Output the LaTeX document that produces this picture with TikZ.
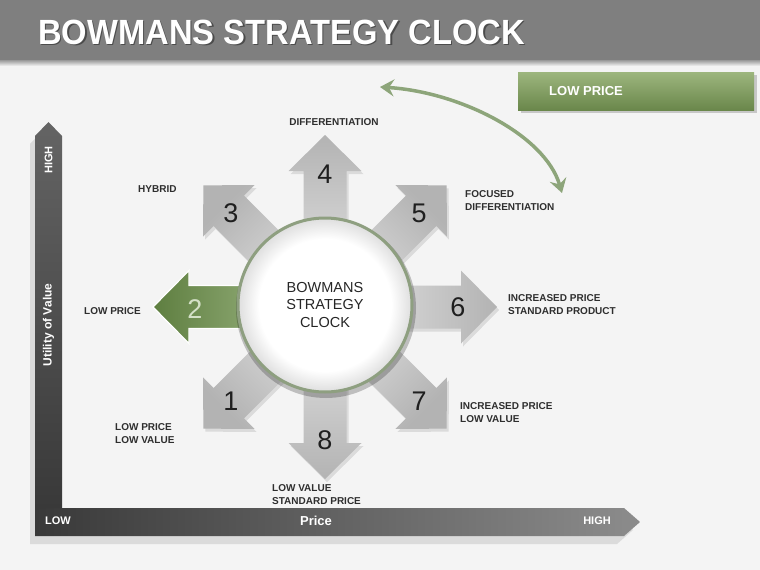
\documentclass[tikz,border=0pt]{standalone}
\usepackage{fontspec}
\setmainfont{Liberation Sans}
\usepackage{graphicx}
\usetikzlibrary{arrows.meta,calc}
\definecolor{kopf}{HTML}{7F7F7F}
\definecolor{grund}{HTML}{F4F4F4}
\definecolor{boxo}{HTML}{9DB67E}
\definecolor{boxu}{HTML}{6A874B}
\definecolor{gruend}{HTML}{5E7E40}
\definecolor{gruenh}{HTML}{A9C190}
\definecolor{bogen}{HTML}{8DA57A}
\definecolor{ring}{HTML}{8E9F80}
\definecolor{pfeilh}{HTML}{E9E9E9}
\definecolor{pfeild}{HTML}{B3B3B3}
\definecolor{achsed}{HTML}{393939}
\definecolor{achsem}{HTML}{646464}
\definecolor{achseh}{HTML}{8C8C8C}
\definecolor{schrift}{HTML}{2E2E2E}
\definecolor{schatten}{HTML}{DBDBDB}
\pgfdeclareradialshading{rand}{\pgfpoint{0bp}{0bp}}{color(0bp)=(white); color(19bp)=(white); color(25bp)=(black!13); color(50bp)=(black!13)}
\tikzset{
  titel/.style={font=\fontsize{35}{40}\selectfont\bfseries,text=white,anchor=base west,inner sep=0pt},
  etikett/.style={font=\fontsize{10}{12.7}\selectfont\bfseries,text=schrift,align=left,anchor=base west,inner sep=0pt},
  ziffer/.style={font=\fontsize{27}{30}\selectfont,text=black!88,inner sep=0pt},
  achstext/.style={font=\fontsize{11}{13}\selectfont\bfseries,text=white,inner sep=0pt},
  uhr/.style={circle,shading=rand,draw=ring,line width=3pt,minimum size=174pt,align=center,
    font=\fontsize{14.5}{17.7}\selectfont,text=black!85},
  bogenpfeil/.style={{Stealth[length=14pt,width=17pt,inset=5pt]}-{Stealth[length=14pt,width=17pt,inset=5pt]},bogen,line width=3.5pt},
}

\begin{document}
\begin{tikzpicture}[x=1pt,y=-1pt]
  \useasboundingbox (0,0) rectangle (760,570);
  \fill[grund] (0,0) rectangle (760,570);
  \fill[kopf] (0,0) rectangle (760,60);
  \shade[top color=black!40,bottom color=grund] (0,60) rectangle (760,66);
  \node[titel,text=black!70] (titelschatten) at (39.5,45.5) {\scalebox{0.935}[1]{BOWMANS STRATEGY CLOCK}};
  \node[titel] (titel) at (38,44) {\scalebox{0.935}[1]{BOWMANS STRATEGY CLOCK}};
  \fill[black!22] (521,75) rectangle (757,113);
  \shade[top color=boxo,bottom color=boxu] (518,72) rectangle (754,110);
  \node[etikett,text=white,font=\fontsize{13}{15}\selectfont\bfseries] (preisbox) at (549,95.5) {LOW PRICE};
  \coordinate (bogenA) at (380,87); \coordinate (bogenB) at (562,193);
  \draw[bogenpfeil] (bogenA) .. controls (460,92) and (545,135) .. (bogenB);
  \fill[schatten] (30,144)--(43.5,130)--(57,144)--(57,516)--(617,516)--(633,530)--(617,544)--(30,544)--cycle;
  \shade[left color=achsed,right color=achseh] (35,508)--(624,508)--(640,522)--(624,536)--(35,536)--cycle;
  \shade[top color=achsem,bottom color=achsed] (35,136)--(48.5,122)--(62,136)--(62,508)--(35,508)--cycle;
  \node[achstext,rotate=90] (hoch) at (48.5,160) {HIGH};
  \node[achstext,rotate=90,font=\fontsize{12}{14}\selectfont\bfseries] (nutzen) at (48.5,325) {Utility of Value};
  \node[achstext,anchor=west] (tief) at (45,521) {LOW};
  \node[achstext,font=\fontsize{13}{15}\selectfont\bfseries] (preis) at (316,521) {Price};
  \node[achstext,anchor=east] (teuer) at (611,521) {HIGH};
  \coordinate (mitte) at (325,307);
  \foreach \w/\z in {-90/4,-45/5,0/6,45/7,90/8,135/1,-135/3}{
    \fill[black,opacity=0.1] ($(mitte)+(2,3)+(\w-90:21.5)$)--($(mitte)+(2,3)+(\w:136)+(\w-90:21.5)$)--($(mitte)+(2,3)+(\w:136)+(\w-90:36.5)$)
      --($(mitte)+(2,3)+(\w:172)$)--($(mitte)+(2,3)+(\w:136)+(\w+90:36.5)$)--($(mitte)+(2,3)+(\w:136)+(\w+90:21.5)$)--($(mitte)+(2,3)+(\w+90:21.5)$)--cycle;
    \shade[top color=pfeild,bottom color=pfeilh,shading angle={-\w-90}] ($(mitte)+(\w-90:21.5)$)--($(mitte)+(\w:136)+(\w-90:21.5)$)--($(mitte)+(\w:136)+(\w-90:36.5)$)
      --($(mitte)+(\w:172)$)--($(mitte)+(\w:136)+(\w+90:36.5)$)--($(mitte)+(\w:136)+(\w+90:21.5)$)--($(mitte)+(\w+90:21.5)$)--cycle;
    \node[ziffer] (z\z) at ($(mitte)+(\w:133)$) {\z};
  }
  \shade[left color=gruend,right color=gruenh,draw=white,line width=1.2pt] (325,285.5)--(189,285.5)--(189,270.5)--(153,307)--(189,343.5)--(189,328.5)--(325,328.5)--cycle;
  \node[ziffer,text=gruenh!50!white] (z2) at (195,309) {2};
  \fill[black,opacity=0.22] (326,308) circle (90);
  \node[uhr] (uhr) at (325,305) {BOWMANS\\STRATEGY\\CLOCK};
  \node[etikett,anchor=base] (l4) at (334,125) {DIFFERENTIATION};
  \node[etikett] (l3) at (138,192) {HYBRID};
  \node[etikett] (l5) at (465,210) {FOCUSED\\DIFFERENTIATION};
  \node[etikett] (l6) at (508,314.5) {INCREASED PRICE\\STANDARD PRODUCT};
  \node[etikett] (l2) at (84,314) {LOW PRICE};
  \node[etikett] (l1) at (115,443) {LOW PRICE\\LOW VALUE};
  \node[etikett] (l7) at (460,422) {INCREASED PRICE\\LOW VALUE};
  \node[etikett] (l8) at (272,504.5) {LOW VALUE\\STANDARD PRICE};
\end{tikzpicture}
\end{document}
